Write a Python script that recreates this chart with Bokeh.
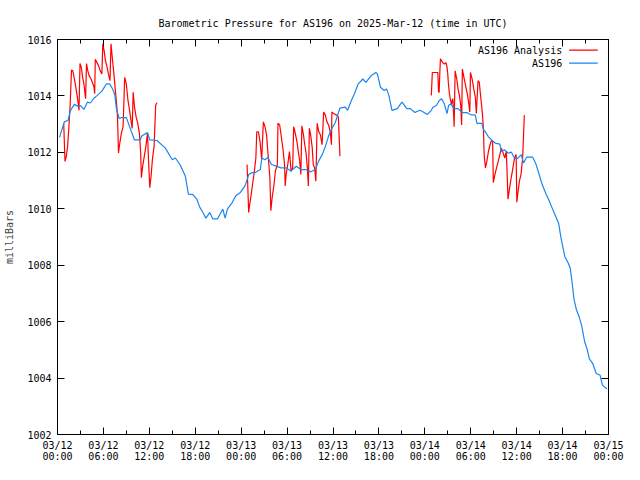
from bokeh.plotting import figure
from bokeh.models import Range1d, FixedTicker, LinearAxis, Label
from bokeh.embed import file_html
from bokeh.resources import INLINE

# ---------------- data (hours since 2025-03-12 00:00 UTC, pressure in mbar) ----------------
blue_hours = [0.26, 0.9, 1.4, 1.66, 2.2, 2.7, 3.0, 3.45, 3.9, 4.3, 4.7, 5.2, 5.8, 6.4, 6.8, 7.2, 7.5, 7.7,
              8.05, 8.35, 9.0, 9.5, 10.06, 10.8, 11.0, 11.76, 12.06, 13.0, 14.1, 15.0, 15.4, 16.0, 16.7,
              17.1, 17.7, 18.2, 18.6, 19.0, 19.4, 19.9, 20.3, 20.9, 21.6, 21.9, 22.2, 22.85, 23.3, 23.9,
              24.5, 25.0, 25.4, 25.8, 26.5, 26.7, 27.1, 27.5, 27.96, 28.6, 29.2, 29.9, 30.5, 31.2, 31.8,
              32.4, 33.1, 33.7, 34.1, 34.6, 35.0, 35.4, 35.85, 36.3, 36.9, 37.6, 37.9, 38.4, 38.8, 39.3,
              39.9, 40.3, 41.0, 41.6, 41.8, 42.2, 42.7, 43.0, 43.3, 43.7, 44.4, 45.0, 45.2, 45.65, 46.1,
              46.7, 47.35, 47.8, 48.3, 48.85, 49.05, 49.5, 49.9, 50.2, 50.55, 50.9, 51.1, 51.4, 51.8,
              52.3, 52.9, 53.5, 53.95, 54.6, 54.8, 55.45, 55.7, 55.9, 56.3, 56.7, 57.2, 57.8, 58.0, 58.4,
              58.9, 59.3, 59.7, 60.1, 60.6, 60.9, 61.3, 62.1, 62.5, 62.9, 63.35, 63.8, 64.2, 64.6, 65.05,
              65.5, 65.7, 65.9, 66.3, 66.75, 67.0, 67.25, 67.5, 67.8, 68.2, 68.5, 68.9, 69.2, 69.5, 69.95,
              70.4, 70.9, 71.2, 71.8]
blue_mbar = [1012.53, 1013.08, 1013.14, 1013.47, 1013.70, 1013.63, 1013.66, 1013.52, 1013.78, 1013.75,
             1013.90, 1014.02, 1014.17, 1014.43, 1014.43, 1014.25, 1014.02, 1013.55, 1013.20, 1013.23,
             1013.23, 1012.85, 1012.44, 1012.44, 1012.58, 1012.70, 1012.44, 1012.42, 1012.15, 1011.74,
             1011.80, 1011.57, 1011.16, 1010.52, 1010.50, 1010.34, 1010.05, 1009.87, 1009.67, 1009.87,
             1009.64, 1009.64, 1009.99, 1009.67, 1009.99, 1010.23, 1010.46, 1010.58, 1010.81, 1011.22,
             1011.28, 1011.28, 1011.39, 1011.80, 1011.74, 1011.82, 1011.57, 1011.51, 1011.45, 1011.45,
             1011.34, 1011.51, 1011.39, 1011.39, 1011.31, 1011.39, 1011.68, 1011.92, 1012.21, 1012.56,
             1012.85, 1013.06, 1013.57, 1013.60, 1013.49, 1013.84, 1014.08, 1014.43, 1014.60, 1014.48,
             1014.72, 1014.83, 1014.78, 1014.31, 1014.19, 1014.25, 1014.02, 1013.49, 1013.55, 1013.78,
             1013.72, 1013.55, 1013.55, 1013.41, 1013.49, 1013.43, 1013.34, 1013.49, 1013.60, 1013.66,
             1013.84, 1013.90, 1013.72, 1013.37, 1013.66, 1013.72, 1013.55, 1013.55, 1013.41, 1013.41,
             1013.34, 1013.32, 1013.03, 1013.03, 1012.79, 1012.73, 1012.56, 1012.44, 1012.33, 1012.29,
             1012.03, 1012.09, 1011.97, 1012.01, 1011.80, 1011.78, 1011.92, 1011.62, 1011.83, 1011.83,
             1011.60, 1011.25, 1010.85, 1010.55, 1010.31, 1010.05, 1009.76, 1009.47, 1009.12, 1008.82,
             1008.30, 1008.07, 1007.89, 1007.37, 1006.78, 1006.43, 1006.14, 1005.85, 1005.27, 1005.03,
             1004.68, 1004.51, 1004.16, 1004.10, 1003.75, 1003.61]

red1_hours = [0.81, 0.98, 1.15, 1.32, 1.49, 1.66, 1.83, 2.00, 2.17, 2.39, 2.60, 2.81, 2.94, 3.11, 3.28,
              3.45, 3.67, 3.79, 3.96, 4.13, 4.39, 4.60, 4.77, 4.86, 4.94, 5.16, 5.37, 5.58, 5.80, 5.92,
              6.10, 6.27, 6.44, 6.65, 6.86, 6.99, 7.20, 7.37, 7.54, 7.72, 7.84, 7.97, 8.14, 8.35, 8.57,
              8.78, 8.99, 9.21, 9.42, 9.63, 9.76, 9.89, 10.06, 10.27, 10.49, 10.70, 10.87, 10.96, 11.13,
              11.34, 11.55, 11.76, 11.89, 12.06, 12.23, 12.40, 12.62, 12.83, 13.00]
red1_mbar = [1013.03, 1011.68, 1011.86, 1012.21, 1012.91, 1013.72, 1014.92, 1014.89, 1014.66, 1014.31,
             1013.96, 1013.49, 1015.15, 1015.01, 1014.66, 1014.43, 1013.90, 1015.15, 1014.89, 1014.72,
             1014.60, 1014.45, 1014.31, 1014.08, 1015.30, 1015.18, 1015.07, 1014.89, 1014.78, 1015.85,
             1015.59, 1015.24, 1015.07, 1014.78, 1014.54, 1015.85, 1015.24, 1014.78, 1014.25, 1013.72,
             1013.26, 1011.98, 1012.33, 1012.68, 1012.91, 1014.66, 1014.43, 1013.84, 1013.49, 1013.08,
             1012.85, 1014.13, 1013.61, 1013.26, 1013.03, 1012.68, 1011.98, 1011.10, 1011.51, 1011.86,
             1012.21, 1012.68, 1011.74, 1010.75, 1011.16, 1011.74, 1012.21, 1013.67, 1013.76]

red2_hours = [24.77, 24.98, 25.06, 25.32, 25.49, 25.75, 25.92, 26.04, 26.26, 26.47, 26.68, 26.90, 27.11,
              27.32, 27.45, 27.62, 27.75, 27.88, 28.05, 28.30, 28.47, 28.73, 28.81, 29.03, 29.16, 29.33,
              29.45, 29.67, 29.75, 29.88, 30.09, 30.31, 30.52, 30.73, 30.86, 31.03, 31.29, 31.46, 31.63,
              31.80, 31.93, 32.14, 32.31, 32.48, 32.65, 32.78, 32.91, 33.08, 33.29, 33.42, 33.59, 33.76,
              33.93, 34.14, 34.36, 34.57, 34.78, 35.00, 35.21, 35.42, 35.64, 35.80, 35.85, 36.06, 36.49,
              36.70, 36.83, 36.91]
red2_mbar = [1011.57, 1009.87, 1010.05, 1010.52, 1010.87, 1011.39, 1011.80, 1012.73, 1012.73, 1012.38,
             1011.74, 1013.08, 1012.91, 1012.62, 1012.15, 1011.57, 1011.10, 1009.93, 1010.40, 1010.87,
             1011.33, 1011.57, 1013.03, 1012.97, 1012.73, 1012.38, 1012.15, 1011.57, 1010.81, 1011.22,
             1011.57, 1012.03, 1011.33, 1011.45, 1012.91, 1012.73, 1012.38, 1012.03, 1011.74, 1011.22,
             1012.94, 1012.62, 1012.27, 1011.98, 1011.45, 1010.81, 1012.85, 1012.62, 1012.15, 1011.57,
             1011.45, 1010.98, 1013.03, 1012.73, 1012.62, 1012.27, 1013.43, 1013.32, 1013.08, 1012.97,
             1012.73, 1012.27, 1013.43, 1013.38, 1013.32, 1013.26, 1012.38, 1011.86]

red3_hours = [48.85, 48.98, 49.70, 49.79, 49.87, 49.96, 50.04, 50.34, 50.55, 50.77, 50.90, 50.98, 51.07,
              51.19, 51.32, 51.49, 51.66, 51.83, 51.96, 52.17, 52.34, 52.52, 52.69, 52.81, 52.90, 53.11,
              53.32, 53.54, 53.75, 53.88, 53.96, 54.18, 54.39, 54.60, 54.73, 54.95, 55.12, 55.24, 55.37,
              55.54, 55.67, 55.75, 55.92, 56.10, 56.31, 56.52, 56.74, 56.86, 56.95, 57.16, 57.37, 57.59,
              57.80, 58.01, 58.23, 58.44, 58.65, 58.87, 59.08, 59.29, 59.51, 59.72, 59.93, 60.02, 60.19,
              60.36, 60.57, 60.78, 61.00]
red3_mbar = [1014.02, 1014.83, 1014.83, 1014.13, 1014.13, 1014.83, 1015.32, 1015.18, 1015.13, 1015.18,
             1015.01, 1014.83, 1014.48, 1014.13, 1013.90, 1013.72, 1013.90, 1012.91, 1014.89, 1014.60,
             1014.25, 1014.02, 1013.67, 1012.97, 1014.95, 1014.66, 1014.37, 1014.08, 1013.72, 1013.43,
             1014.83, 1014.60, 1014.25, 1013.96, 1013.38, 1014.54, 1014.48, 1014.13, 1013.78, 1013.32,
             1012.73, 1011.92, 1011.45, 1011.68, 1012.03, 1012.27, 1012.44, 1012.38, 1010.93, 1011.22,
             1011.45, 1011.68, 1011.92, 1012.15, 1011.98, 1011.80, 1012.03, 1010.34, 1010.75, 1011.10,
             1011.45, 1011.80, 1011.92, 1010.23, 1010.63, 1010.98, 1011.22, 1011.80, 1013.32]

x_tick_hours = [0, 6, 12, 18, 24, 30, 36, 42, 48, 54, 60, 66, 72]
x_tick_labels = ["03/12\n00:00", "03/12\n06:00", "03/12\n12:00", "03/12\n18:00",
                 "03/13\n00:00", "03/13\n06:00", "03/13\n12:00", "03/13\n18:00",
                 "03/14\n00:00", "03/14\n06:00", "03/14\n12:00", "03/14\n18:00",
                 "03/15\n00:00"]
x_minor_hours = [3, 9, 15, 21, 27, 33, 39, 45, 51, 57, 63, 69]
y_ticks = [1002, 1004, 1006, 1008, 1010, 1012, 1014, 1016]

title_text = "Barometric Pressure for AS196 on 2025-Mar-12 (time in UTC)"
series_names = ["AS196 Analysis", "AS196"]
RED = "#ff0000"
BLUE = "#1a86f0"
FONT = "DejaVu Sans Mono"
FS = "10px"

# ---------------- figure ----------------
p = figure(width=624, height=464, output_backend="svg", toolbar_location=None,
           x_range=Range1d(0, 72), y_range=Range1d(1002, 1016),
           min_border_left=57, min_border_right=16, min_border_top=39, min_border_bottom=28)
p.background_fill_color = "white"
p.border_fill_color = "white"
p.outline_line_color = "black"
p.outline_line_width = 1
p.grid.visible = False

p.title.text = title_text
p.title.align = "center"
p.title.text_font = FONT
p.title.text_font_size = FS
p.title.text_font_style = "normal"
p.title.text_color = "black"
p.title.standoff = 22

xt = FixedTicker(ticks=x_tick_hours, minor_ticks=x_minor_hours)
yt = FixedTicker(ticks=y_ticks, minor_ticks=[])


def style_axis(ax, labels=True):
    ax.axis_line_color = "black"
    ax.major_tick_line_color = "black"
    ax.minor_tick_line_color = "black"
    ax.major_tick_in = 7
    ax.major_tick_out = 0
    ax.minor_tick_in = 4
    ax.minor_tick_out = 0
    ax.major_label_text_font = FONT
    if labels:
        ax.major_label_text_font_size = FS
        ax.major_label_text_color = "black"
    else:
        ax.major_label_text_font_size = "1px"
        ax.major_label_text_color = None
        ax.major_label_text_alpha = 0
        ax.major_label_standoff = 0
    ax.axis_label_text_font = FONT
    ax.axis_label_text_font_size = FS
    ax.axis_label_text_font_style = "normal"


xa = p.xaxis[0]
xa.ticker = xt
xa.major_label_overrides = {h: lab for h, lab in zip(x_tick_hours, x_tick_labels)}
style_axis(xa)
xa.major_label_standoff = 5
xa.major_label_text_line_height = 1.0

ya = p.yaxis[0]
ya.ticker = yt
style_axis(ya)
ya.major_label_standoff = 6
ya.axis_label = "milliBars"
ya.axis_label_standoff = 9

ra = LinearAxis(ticker=FixedTicker(ticks=y_ticks, minor_ticks=[]))
style_axis(ra, labels=False)
p.add_layout(ra, "right")

ta = LinearAxis(ticker=FixedTicker(ticks=x_tick_hours, minor_ticks=x_minor_hours))
style_axis(ta, labels=False)
p.add_layout(ta, "above")

# ---------------- series ----------------
for hrs, mb in [(red1_hours, red1_mbar), (red2_hours, red2_mbar), (red3_hours, red3_mbar)]:
    p.line(hrs, mb, line_color=RED, line_width=1.2)
p.line(blue_hours, blue_mbar, line_color=BLUE, line_width=1.2)

# ---------------- gnuplot-style key (text left of sample line) ----------------
KEY_TEXT_X = 65.95
KEY_LINE_X0 = 66.85
KEY_LINE_X1 = 70.6
KEY_ROW_Y = [1015.62, 1015.16]
for name, color, ky in zip(series_names, [RED, BLUE], KEY_ROW_Y):
    p.add_layout(Label(x=KEY_TEXT_X, y=ky, text=name, text_align="right", text_baseline="middle",
                       text_font=FONT, text_font_size=FS, text_color="black"))
    p.segment(x0=[KEY_LINE_X0], y0=[ky], x1=[KEY_LINE_X1], y1=[ky], line_color=color, line_width=1.2)

open("out.html", "w").write(file_html(p, INLINE))
